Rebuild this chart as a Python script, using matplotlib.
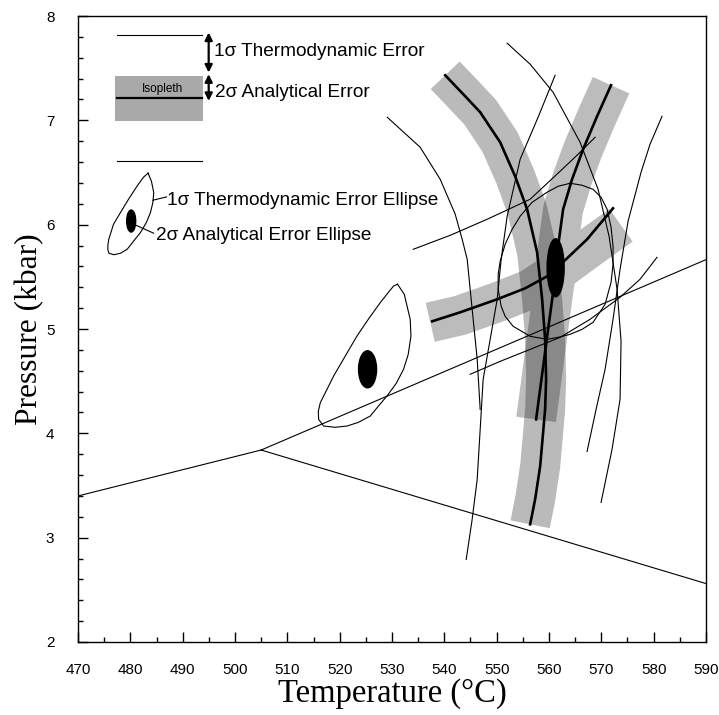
import numpy as np
import matplotlib
matplotlib.use('Agg')
import matplotlib.pyplot as plt
from matplotlib.patches import Ellipse, Rectangle

# DATA (T in degC, P in kbar)
# reaction lines (triple junction)
rxn_left_T = [470.0, 505.0]
rxn_left_P = [3.40, 3.84]
rxn_up_T = [505.0, 590.0]
rxn_up_P = [3.84, 5.665]
rxn_low_T = [505.0, 590.0]
rxn_low_P = [3.84, 2.56]

# isopleths (thick) and their 2 sigma analytical bands
iso_a_T = [540.17, 543.99, 546.85, 550.67, 553.53, 555.82, 557.73, 558.69, 559.26,
           559.45, 559.26, 558.88, 558.31, 557.35, 556.40]
iso_a_P = [7.432, 7.231, 7.078, 6.790, 6.464, 6.148, 5.735, 5.285, 4.901,
           4.518, 4.230, 4.010, 3.684, 3.367, 3.128]
iso_b_T = [537.69, 543.03, 550.10, 555.44, 559.64, 563.46, 567.28, 572.24]
iso_b_P = [5.074, 5.160, 5.285, 5.390, 5.505, 5.678, 5.860, 6.157]
iso_c_T = [571.86, 569.19, 566.52, 564.41, 562.70, 561.74, 561.36, 560.79,
           559.83, 558.69, 557.54]
iso_c_P = [7.337, 7.039, 6.723, 6.435, 6.148, 5.793, 5.572, 5.352,
           4.997, 4.566, 4.134]
band_b_T = [537.31, 543.03, 550.10, 556.40, 562.13, 567.85, 573.77]
band_b_P = [5.064, 5.131, 5.256, 5.381, 5.572, 5.783, 5.994]

# other thin isopleths
thin_1_T = [529.09, 535.39, 539.21, 542.08, 543.41, 544.37, 545.32, 546.28, 546.85]
thin_1_P = [7.030, 6.742, 6.435, 6.100, 5.860, 5.668, 5.189, 4.709, 4.230]
thin_2_T = [561.17, 557.92, 554.49, 552.01, 550.86, 550.10, 548.76, 547.42,
            546.85, 546.28, 545.32, 544.18]
thin_2_P = [7.432, 7.030, 6.627, 6.081, 5.668, 5.285, 4.901, 4.518,
            4.038, 3.559, 3.176, 2.792]
thin_3_T = [552.01, 556.40, 560.79, 565.94, 569.38, 571.48, 573.01, 573.77,
            573.58, 572.05, 569.95]
thin_3_P = [7.739, 7.538, 7.269, 6.790, 6.339, 5.889, 5.381, 4.882,
            4.326, 3.847, 3.338]
thin_4_T = [581.60, 579.31, 577.59, 575.11, 573.58, 572.24, 570.72, 569.00, 567.28]
thin_4_P = [7.039, 6.771, 6.502, 6.033, 5.572, 5.093, 4.614, 4.230, 3.827]
thin_5_T = [534.06, 541.12, 548.19, 556.40, 562.13, 565.56, 568.81]
thin_5_P = [5.764, 5.898, 6.052, 6.244, 6.512, 6.675, 6.838]
thin_6_T = [544.94, 550.67, 556.40, 562.13, 567.85, 573.58, 577.40, 580.64]
thin_6_P = [4.566, 4.690, 4.805, 4.920, 5.093, 5.304, 5.477, 5.687]

# 1 sigma thermodynamic error ellipses (outlines)
ell_big_T = [564.03, 566.32, 568.42, 569.95, 571.10, 571.86, 572.24, 572.24, 571.86,
             570.72, 568.42, 566.32, 564.03, 561.74, 559.64, 556.40, 553.15, 551.62,
             550.86, 550.29, 550.29, 550.67, 551.62, 552.96, 554.49, 556.78, 559.64,
             561.74, 564.03]
ell_big_P = [6.397, 6.378, 6.339, 6.263, 6.148, 5.975, 5.793, 5.620, 5.448,
             5.237, 5.064, 4.997, 4.949, 4.920, 4.901, 4.930, 5.026, 5.122,
             5.218, 5.381, 5.524, 5.649, 5.812, 5.956, 6.081, 6.215, 6.311,
             6.368, 6.397]
ell_mid_T = [531.06, 532.34, 533.48, 533.62, 533.10, 532.21, 530.81, 529.04, 527.37,
             525.85, 523.56, 521.40, 519.17, 516.93, 515.98, 515.92, 516.30, 517.58,
             518.84, 521.07, 523.31, 525.47, 527.76, 529.47, 530.30, 531.06]
ell_mid_P = [5.429, 5.333, 5.093, 4.933, 4.757, 4.614, 4.479, 4.358, 4.259,
             4.166, 4.105, 4.070, 4.058, 4.070, 4.134, 4.211, 4.294, 4.422,
             4.549, 4.741, 4.933, 5.093, 5.253, 5.361, 5.412, 5.429]
ell_key_T = [483.40, 484.03, 484.47, 484.32, 483.84, 483.08, 481.93, 480.60, 479.39,
             478.11, 476.84, 475.92, 475.69, 475.73, 475.88, 476.78, 478.11, 479.64,
             481.30, 482.51, 483.40]
ell_key_P = [6.494, 6.416, 6.308, 6.215, 6.116, 6.023, 5.924, 5.841, 5.764,
             5.726, 5.712, 5.726, 5.764, 5.812, 5.860, 6.004, 6.116, 6.243,
             6.371, 6.455, 6.494]

# 2 sigma analytical error ellipses: (T, P, width, height)
dots = [(561.27, 5.587, 3.25, 0.556),
        (525.33, 4.614, 3.44, 0.355),
        (480.16, 6.035, 1.72, 0.211)]

# key for the error bars
key_T = [477.48, 493.71]
key_iso_P = 7.212
key_thermo_P = [7.819, 6.611]
key_band_P = [6.994, 7.426]
key_band_T = [477.16, 493.90]

# FIGURE
fig = plt.figure(figsize=(7.19, 7.15), dpi=100)
ax = fig.add_axes([0.1085, 0.1021, 0.8734, 0.8755])

band_kw = dict(lw=28.8, solid_capstyle='butt', solid_joinstyle='round')
ax.plot(iso_c_T, iso_c_P, color='#bcbcbc', zorder=1, **band_kw)
ax.plot(band_b_T, band_b_P, color='#bcbcbc', zorder=1, **band_kw)
ax.plot(iso_a_T, iso_a_P, color='black', alpha=0.27, zorder=1.5, **band_kw)

thin_kw = dict(color='black', lw=0.8, zorder=2)
ax.plot(rxn_left_T, rxn_left_P, **thin_kw)
ax.plot(rxn_up_T, rxn_up_P, **thin_kw)
ax.plot(rxn_low_T, rxn_low_P, **thin_kw)
for tt, pp in [(thin_1_T, thin_1_P), (thin_2_T, thin_2_P), (thin_3_T, thin_3_P),
               (thin_4_T, thin_4_P), (thin_5_T, thin_5_P), (thin_6_T, thin_6_P)]:
    ax.plot(tt, pp, **thin_kw)

thick_kw = dict(color='black', lw=1.9, zorder=2.5)
ax.plot(iso_a_T, iso_a_P, **thick_kw)
ax.plot(iso_b_T, iso_b_P, **thick_kw)
ax.plot(iso_c_T, iso_c_P, **thick_kw)

ax.plot(ell_big_T, ell_big_P, **thin_kw)
ax.plot(ell_mid_T, ell_mid_P, **thin_kw)
ax.plot(ell_key_T, ell_key_P, **thin_kw)
for t, p, w, h in dots:
    ax.add_patch(Ellipse((t, p), w, h, facecolor='black', edgecolor='black', zorder=3))

# key: isopleth band + thermodynamic error
ax.add_patch(Rectangle((key_band_T[0], key_band_P[0]), key_band_T[1] - key_band_T[0],
                       key_band_P[1] - key_band_P[0], facecolor='#a9a9a9',
                       edgecolor='none', zorder=1))
ax.plot(key_T, [key_iso_P, key_iso_P], color='black', lw=1.6, zorder=2)
for p in key_thermo_P:
    ax.plot(key_T, [p, p], color='black', lw=0.8, zorder=2)
ax.text(486.08, 7.298, 'Isopleth', fontsize=8.5, family='Liberation Sans',
        ha='center', va='center')
arr = dict(arrowstyle='<|-|>', color='black', lw=1.6, mutation_scale=11,
           shrinkA=0, shrinkB=0)
ax.annotate('', xy=(494.97, 7.458), xytext=(494.97, 7.842), arrowprops=arr)
ax.annotate('', xy=(494.97, 7.186), xytext=(494.97, 7.442), arrowprops=arr)
txt_kw = dict(fontsize=13.7, family='Liberation Sans', va='center', ha='left')
ax.text(496.0, 7.664, '1σ Thermodynamic Error', **txt_kw)
ax.text(496.1, 7.264, '2σ Analytical Error', **txt_kw)

# key: ellipses
ax.plot([484.28, 486.9], [6.234, 6.266], color='black', lw=0.8)
ax.plot([480.65, 484.47], [6.004, 5.918], color='black', lw=0.8)
ax.text(487.0, 6.227, '1σ Thermodynamic Error Ellipse', **txt_kw)
ax.text(484.9, 5.898, '2σ Analytical Error Ellipse', **txt_kw)

# AXES
ax.set_xlim(470, 590)
ax.set_ylim(2, 8)
ax.set_xticks(np.arange(470, 591, 10))
ax.set_xticks(np.arange(475, 590, 10), minor=True)
ax.set_yticks(np.arange(2, 8.1, 1))
ax.set_yticks(np.arange(2.2, 8, 0.2), minor=True)
ax.tick_params(which='both', direction='in', top=False, right=False, width=1.0)
ax.tick_params(which='major', length=7)
ax.tick_params(which='minor', length=3.5)
ax.tick_params(axis='x', pad=15)
ax.tick_params(axis='y', pad=17)
for lab in ax.get_xticklabels() + ax.get_yticklabels():
    lab.set_fontfamily('Liberation Sans')
    lab.set_fontsize(11)
for s in ax.spines.values():
    s.set_linewidth(1.0)

ax.set_xlabel('Temperature (°C)', family='Liberation Serif', fontsize=23.5, labelpad=1)
ax.set_ylabel('Pressure (kbar)', family='Liberation Serif', fontsize=22.7, labelpad=1)

fig.savefig('out.png', dpi=100)
